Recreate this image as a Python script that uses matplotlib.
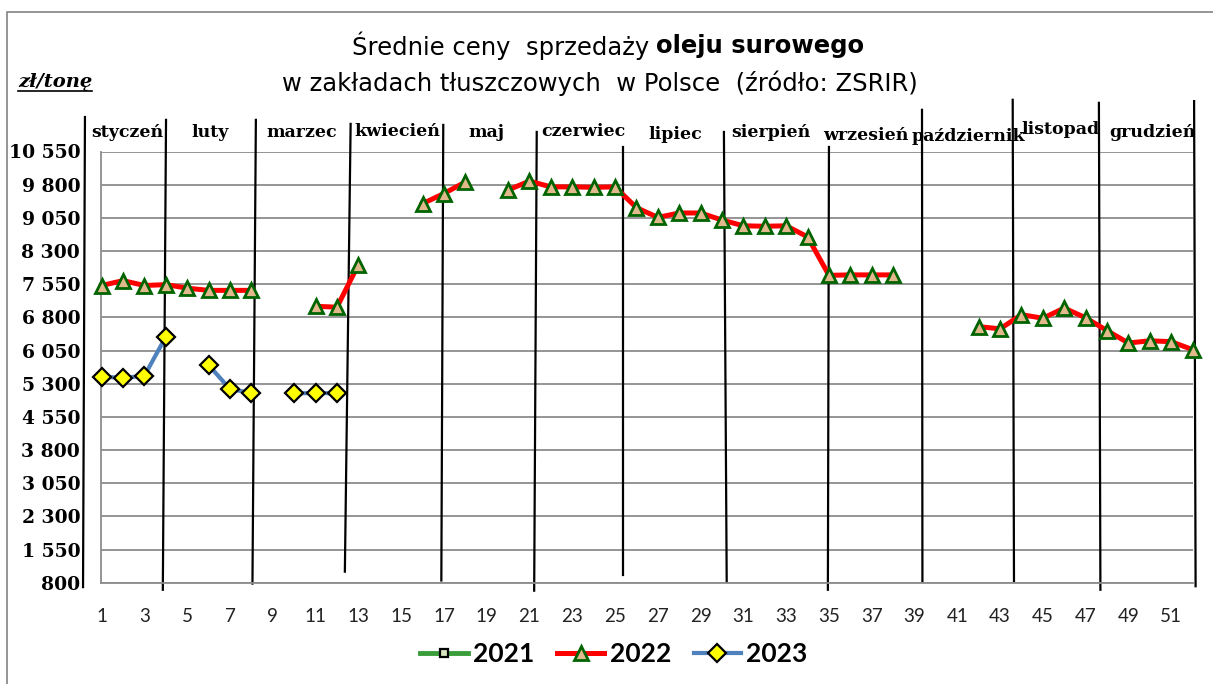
import numpy as np
import matplotlib
matplotlib.use("Agg")
import matplotlib.pyplot as plt
from matplotlib.patches import Rectangle
from matplotlib.lines import Line2D

nan = np.nan

# tygodnie 1..52
weeks = np.arange(1, 53)

# 2021 - brak danych na wykresie
ceny_2021 = []

ceny_2022 = [7520, 7630, 7520, 7540, 7460, 7410, 7410, 7410, nan, nan,
             7050, 7030, 7990, nan, nan, 9370, 9600, 9860, nan, 9680,
             9880, 9750, 9750, 9740, 9750, 9280, 9060, 9160, 9160, 9000,
             8870, 8860, 8870, 8620, 7750, 7760, 7760, 7760, nan, nan,
             nan, 6590, 6540, 6860, 6780, 7010, 6790, 6500, 6220, 6270,
             6250, 6070]

ceny_2023 = [5460, 5430, 5480, 6360, nan, 5720, 5180, 5090, nan, 5080,
             5090, 5080] + [nan] * 40

y_ticks = [800, 1550, 2300, 3050, 3800, 4550, 5300, 6050, 6800, 7550,
           8300, 9050, 9800, 10550]
x_ticks = list(range(1, 52, 2))

miesiace = ["styczeń", "luty", "marzec", "kwiecień", "maj", "czerwiec",
            "lipiec", "sierpień", "wrzesień", "październik", "listopad", "grudzień"]
# pozycje napisow miesiecy (w tygodniach)
miesiace_x = [2.18, 6.06, 10.36, 14.8, 19.0, 23.5, 27.8, 32.3, 36.7, 41.5, 45.8, 50.1]
miesiace_y = [10970, 10970, 10970, 11010, 10970, 11010, 10940, 10970, 10920, 10880, 11040, 10970]

# granice miesiecy: gora / dol (w tygodniach) i wysokosc poczatku linii
granice_gora = [0.22, 4.01, 8.21, 12.64, 16.97, 21.34, 25.37, 30.09, 35.0, 39.35, 43.59, 47.62, 52.07]
granice_dol = [0.13, 3.86, 8.05, 12.37, 16.88, 21.22, 25.37, 30.22, 34.95, 39.37, 43.65, 47.69, 52.14]
granice_top_y = [11330, 11265, 11265, 11174, 11151, 10992, 10652, 10992, 10652, 11492, 11719, 11650, 11690]
granice_bot_y = [700, 640, 780, 1050, 850, 620, 980, 820, 640, 830, 830, 640, 720]

W, H = 1213, 684
fig = plt.figure(figsize=(W / 100, H / 100), dpi=100)
fig.patch.set_facecolor("white")

# ramka wykresu
fig.patches.append(Rectangle((7 / W, -0.1), 1.2, 1 - 12 / H + 0.1, transform=fig.transFigure,
                             fill=False, edgecolor="#8c8c8c", linewidth=1.3))

ax = fig.add_axes([101 / W, (H - 582.7) / H, 1091.6 / W, (582.7 - 151.5) / H])
ax.set_xlim(0.97, 52.0)
ax.set_ylim(800, 10550)

for s in ["top", "right"]:
    ax.spines[s].set_visible(False)
ax.spines["left"].set_color("#8c8c8c")
ax.spines["bottom"].set_color("#8c8c8c")
ax.spines["left"].set_linewidth(1.3)
ax.spines["bottom"].set_linewidth(1.3)

ax.set_yticks(y_ticks)
ax.set_yticklabels([f"{v:,}".replace(",", " ") for v in y_ticks],
                   fontfamily="DejaVu Serif", fontweight="bold", fontsize=13.5)
ax.set_xticks(x_ticks)
ax.set_xticklabels([str(v) for v in x_ticks], fontfamily="Lato", fontsize=13.5, color="#222222")
ax.tick_params(axis="y", length=0, pad=15)
ax.tick_params(axis="x", length=0, pad=18)
ax.grid(axis="y", color="#8c8c8c", linewidth=1.3)
ax.set_axisbelow(True)

# linie miesiecy
for xg, xd, yt, yb in zip(granice_gora, granice_dol, granice_top_y, granice_bot_y):
    ax.plot([xg, xd], [yt, yb], color="black", linewidth=1.6, clip_on=False, zorder=2)

for m, mx, my in zip(miesiace, miesiace_x, miesiace_y):
    ax.text(mx, my, m, ha="center", va="center", fontfamily="DejaVu Serif",
            fontweight="bold", fontsize=12.5, zorder=3)

ax.plot([], [], color="#3a9d3a", linewidth=3.5, marker="s", markersize=6,
        markerfacecolor="#d7e4bd", markeredgecolor="black", markeredgewidth=1.6, label="2021")
ax.plot(weeks, ceny_2022, color="#ff0000", linewidth=3.6, marker="^", markersize=10,
        markerfacecolor="#e2b98c", markeredgecolor="#006400", markeredgewidth=2.0,
        solid_joinstyle="round", label="2022", zorder=4, clip_on=False)
ax.plot(weeks, ceny_2023, color="#4f81bd", linewidth=3.0, marker="D", markersize=9,
        markerfacecolor="#ffff00", markeredgecolor="black", markeredgewidth=1.6,
        solid_joinstyle="round", label="2023", zorder=5, clip_on=False)

leg = fig.legend(loc="center", bbox_to_anchor=(614 / W, 1 - 654 / H), ncol=3, frameon=False,
                 prop={"family": "Lato", "weight": "bold", "size": 19},
                 handlelength=1.8, handletextpad=0.2, columnspacing=0.85)

# tytul
fig.text(649 / W, 1 - 46 / H, "Średnie ceny  sprzedaży", ha="right", va="center",
         fontfamily="DejaVu Sans", fontsize=17.5)
fig.text(656 / W, 1 - 46 / H, "oleju surowego", ha="left", va="center",
         fontfamily="DejaVu Sans", fontsize=17.5, fontweight="bold")
fig.text(600 / W, 1 - 83 / H, "w zakładach tłuszczowych  w Polsce  (źródło: ZSRIR)",
         ha="center", va="center", fontfamily="DejaVu Sans", fontsize=17.5)

jm = fig.text(18 / W, 1 - 82 / H, "zł/tonę", ha="left", va="center", fontfamily="DejaVu Serif",
              fontweight="bold", fontstyle="italic", fontsize=14)
fig.canvas.draw()
bb = jm.get_window_extent().transformed(fig.transFigure.inverted())
fig.add_artist(Line2D([bb.x0, bb.x1], [1 - 91 / H, 1 - 91 / H], transform=fig.transFigure,
                      color="black", linewidth=1.2))

fig.savefig("out.png", dpi=100)
